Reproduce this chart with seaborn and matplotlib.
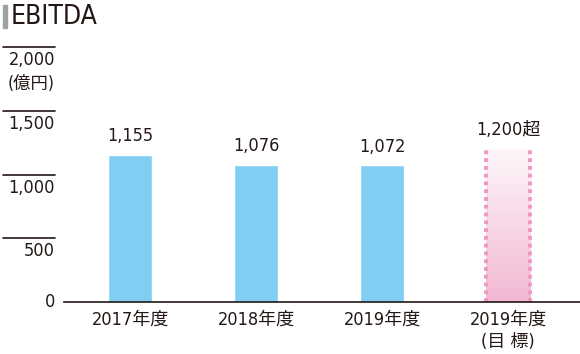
import matplotlib

matplotlib.use("Agg")

import matplotlib.pyplot as plt
import matplotlib.transforms as mtransforms
import numpy as np
import pandas as pd
import seaborn as sns
from matplotlib import font_manager
from matplotlib.patches import Rectangle

categories = ["2017年度", "2018年度", "2019年度", "2019年度\n(目 標)"]
values = [1155, 1076, 1072, 1200]
value_labels = ["1,155", "1,076", "1,072", "1,200超"]
yticks = [500, 1000, 1500, 2000]
ytick_labels = ["500", "1,000", "1,500", "2,000"]
unit_label = "(億円)"
title = "EBITDA"

BLUE = "#80cef3"
PINK = "#f2b8d3"
PINK_EDGE = "#ee98c2"
TEXT = "#231815"

sns.set_theme(style="white")

# prefer a condensed latin face, CJK from Noto
stretch = "normal"
latin = "Liberation Sans"
names = {f.name for f in font_manager.fontManager.ttflist}
if "Liberation Sans Narrow" in names:
    latin = "Liberation Sans Narrow"
else:
    cond = [f for f in font_manager.fontManager.ttflist
            if f.name == "DejaVu Sans" and "ondensed" in f.fname]
    if cond:
        latin, stretch = "DejaVu Sans", "condensed"
plt.rcParams["font.family"] = [latin, "Noto Sans CJK JP", "DejaVu Sans"]
plt.rcParams["font.stretch"] = stretch

W, H = 580, 354
fig = plt.figure(figsize=(W / 100, H / 100), dpi=100)
ax = fig.add_axes([64 / W, (H - 302) / H, 516 / W, (302 - 40) / H])

df = pd.DataFrame({"cat": categories, "val": values})
sns.barplot(data=df, x="cat", y="val", color=BLUE, width=0.35, saturation=1, ax=ax)

ax.set_xlim(-0.524, 3.57)
ax.set_ylim(0, (302 - 40) / 0.1275)

# target bar: gradient fill with dotted sides
target = ax.patches[-1]
target.set_facecolor("none")
x0 = target.get_x()
w = target.get_width()
top = target.get_height()
grad = np.linspace(0, 1, 256).reshape(-1, 1)
cmap = matplotlib.colors.LinearSegmentedColormap.from_list("pk", ["#fef6fa", PINK])
ax.imshow(grad, extent=[x0, x0 + w, 0, top], origin="upper", cmap=cmap,
          aspect="auto", zorder=1)
ax.vlines([x0, x0 + w], 0, top, colors=PINK_EDGE, linestyles=(0, (1, 1)),
          linewidth=2.8, zorder=2)

for i, (v, lab) in enumerate(zip(values, value_labels)):
    ax.annotate(lab, (i, v), xytext=(0, 7), textcoords="offset points",
                ha="center", va="bottom", fontsize=13, color=TEXT)

sns.despine(ax=ax, left=True)
ax.spines["bottom"].set_color(TEXT)
ax.spines["bottom"].set_linewidth(1.2)
ax.set_yticks([])
ax.set_xlabel("")
ax.set_ylabel("")
ax.tick_params(axis="x", length=0, pad=6, labelsize=13, labelcolor=TEXT)
for t in ax.get_xticklabels():
    t.set_linespacing(1.3)

# left scale: short rules above each value
trans = mtransforms.blended_transform_factory(ax.transAxes, ax.transData)
lx0, lx1 = (3 - 64) / 516, (55 - 64) / 516
for yv, lab in zip(yticks, ytick_labels):
    ax.plot([lx0, lx1], [yv, yv], transform=trans, color=TEXT, lw=1.2, clip_on=False)
    ax.annotate(lab, (lx1, yv), xycoords=trans, xytext=(0, -3), textcoords="offset points",
                ha="right", va="top", fontsize=13, color=TEXT, annotation_clip=False)
ax.annotate(unit_label, (lx1, 2000), xycoords=trans, xytext=(0, -20),
            textcoords="offset points", ha="right", va="top", fontsize=12.5,
            color=TEXT, annotation_clip=False)
ax.annotate("0", (lx1, 0), xycoords=trans, ha="right", va="center", fontsize=13,
            color=TEXT, annotation_clip=False)

fig.patches.append(Rectangle((3 / W, (H - 28) / H), 4 / W, 23 / H,
                             transform=fig.transFigure, color="#a0a0a0"))
fig.text(11 / W, (H - 17) / H, title, fontsize=19, color=TEXT, va="center", ha="left")

fig.savefig("out.png", dpi=100, facecolor="white")
